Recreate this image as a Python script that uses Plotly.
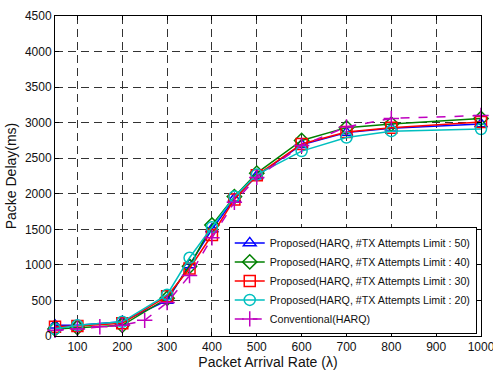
import plotly.graph_objects as go

x_prop = [50, 100, 200, 300, 350, 400, 450, 500, 600, 700, 800, 1000]
y_50 = [150, 150, 200, 500, 1000, 1500, 1930, 2250, 2690, 2860, 2920, 2980]
y_40 = [100, 120, 150, 530, 980, 1560, 1960, 2290, 2750, 2930, 2980, 3060]
y_30 = [130, 140, 180, 560, 950, 1420, 1920, 2260, 2700, 2870, 2930, 3010]
y_20 = [100, 150, 200, 580, 1100, 1530, 1960, 2270, 2600, 2790, 2880, 2910]

x_conv = [50, 100, 150, 200, 250, 300, 350, 400, 450, 500, 600, 700, 800, 1000]
y_conv = [80, 100, 130, 150, 220, 470, 850, 1380, 1880, 2230, 2680, 2940, 3060, 3100]

names = [
    "Proposed(HARQ, #TX Attempts Limit : 50)",
    "Proposed(HARQ, #TX Attempts Limit : 40)",
    "Proposed(HARQ, #TX Attempts Limit : 30)",
    "Proposed(HARQ, #TX Attempts Limit : 20)",
    "Conventional(HARQ)",
]
x_ticks = [100, 200, 300, 400, 500, 600, 700, 800, 900, 1000]
y_ticks = [0, 500, 1000, 1500, 2000, 2500, 3000, 3500, 4000, 4500]

fig = go.Figure()
styles = [
    ("#0000ff", "triangle-up-open", "solid"),
    ("#008000", "diamond-open", "solid"),
    ("#ff0000", "square-open", "solid"),
    ("#00bfbf", "circle-open", "solid"),
    ("#bf00bf", "cross-thin-open", "dash"),
]
series = [(x_prop, y_50), (x_prop, y_40), (x_prop, y_30), (x_prop, y_20), (x_conv, y_conv)]
for (xs, ys), name, (c, sym, dash) in zip(series, names, styles):
    fig.add_trace(go.Scatter(
        x=xs, y=ys, name=name, mode="lines+markers", cliponaxis=False,
        line=dict(color=c, width=1.5, dash=dash),
        marker=dict(symbol=sym, size=11, color=c, line=dict(color=c, width=1.5)),
    ))

axis_common = dict(
    showline=True, linecolor="black", linewidth=1, mirror="allticks",
    ticks="inside", ticklen=4, tickcolor="black",
    showgrid=True, gridcolor="#333333", griddash="8px,5px", gridwidth=1,
    zeroline=False, tickfont=dict(size=12, color="#111"),
    automargin=False, ticklabeloverflow="allow",
)
fig.update_xaxes(range=[50, 1000], tickvals=x_ticks,
                 title=dict(text="Packet Arrival Rate (λ)", font=dict(size=14, color="#111"), standoff=0),
                 **axis_common)
fig.update_yaxes(range=[0, 4500], tickvals=y_ticks,
                 title=dict(text="Packe Delay(ms)", font=dict(size=14, color="#111"), standoff=4),
                 **axis_common)

fig.update_layout(
    width=493, height=371,
    margin=dict(l=55, r=12, t=16, b=35),
    paper_bgcolor="white", plot_bgcolor="white",
    font=dict(family="Liberation Sans, Arial, sans-serif", color="#111"),
    legend=dict(x=0.99, y=0.005, xanchor="right", yanchor="bottom",
                bgcolor="white", bordercolor="black", borderwidth=1,
                font=dict(size=10.7), tracegroupgap=0, itemwidth=30),
    showlegend=True,
)
fig.write_html("out.html", config={"displayModeBar": False},
               post_script="document.body.style.margin='0';document.body.style.overflow='hidden';")
